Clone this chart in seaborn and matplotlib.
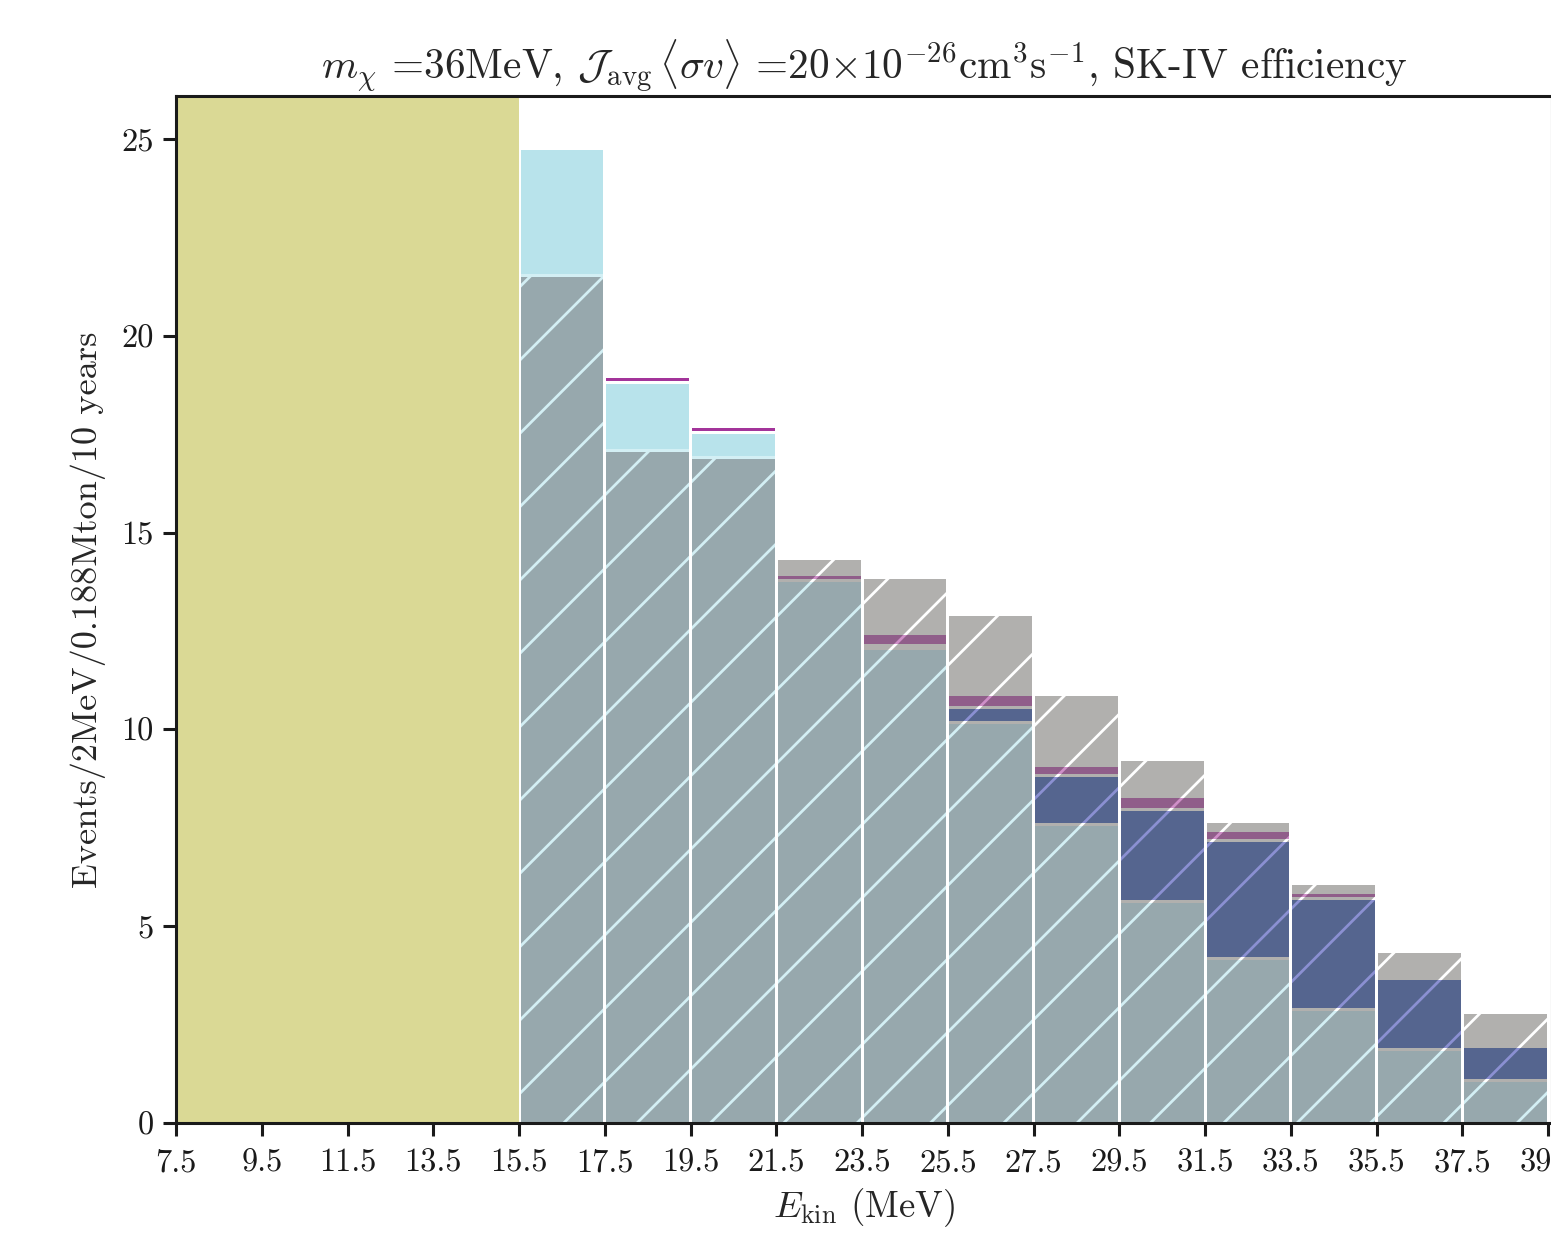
import numpy as np
import pandas as pd
import matplotlib
matplotlib.use("Agg")
import matplotlib.pyplot as plt
import seaborn as sns

# ---- data ----
bin_left = [15.5, 17.5, 19.5, 21.5, 23.5, 25.5, 27.5, 29.5, 31.5, 33.5, 35.5, 37.5]
slate  = [21.50, 17.05, 16.87, 13.75, 12.02, 10.14, 7.55, 5.59, 4.14, 2.85, 1.83, 1.04]
cyan   = [3.22, 1.73, 0.63, 0, 0, 0, 0, 0, 0, 0, 0, 0]
blue   = [0, 0, 0, 0, 0.07, 0.38, 1.24, 2.34, 3.00, 2.82, 1.80, 0.87]
purple = [0, 0.15, 0.16, 0.15, 0.30, 0.33, 0.25, 0.33, 0.25, 0.15, 0, 0]
gray   = [0, 0, 0, 0.40, 1.42, 2.03, 1.81, 0.94, 0.23, 0.23, 0.69, 0.86]
threshold_range = [7.5, 15.5]
xticks = [7.5 + 2 * i for i in range(17)]
yticks = [0, 5, 10, 15, 20, 25]

title = (r"$m_\chi$ =36MeV, $\mathcal{J}_{\rm avg}\,\langle\sigma v\rangle$ =20$\times10^{-26}$"
         r"cm$^3$s$^{-1}$, SK-IV efficiency")
xlabel = r"$E_{\rm kin}$ (MeV)"
ylabel = "Events/2MeV/0.188Mton/10 years"

# ---- style ----
sns.set_theme(style="ticks")
plt.rcParams.update({
    "font.family": "serif",
    "font.serif": ["cmr10", "DejaVu Serif"],
    "mathtext.fontset": "cm",
    "axes.unicode_minus": False,
    "axes.formatter.use_mathtext": True,
    "hatch.linewidth": 0.45,
    "axes.edgecolor": "#1a1a1a",
    "axes.linewidth": 0.5,
})

DPI = 440
W, H = 1551, 1245
fig = plt.figure(figsize=(W / DPI, H / DPI), dpi=DPI)
ax = fig.add_axes([176 / W, 1 - 1123 / H, (1552 - 176) / W, (1123 - 96) / H])

BW = 2.0
SHRINK = 0.965
GAP = 0.08
HATCH = "//"
centers = np.array(bin_left) + BW / 2
edges = [float(e) for e in bin_left] + [bin_left[-1] + BW]

slate_a, cyan_a, blue_a, purple_a, gray_a = map(np.array, (slate, cyan, blue, purple, gray))
total = slate_a + cyan_a + blue_a + purple_a + gray_a
has_gray = gray_a > 0

df = pd.DataFrame({
    "E": centers,
    "bg_gray": np.where(has_gray, total, 0.0),
    "bg_cyan": np.where(has_gray, 0.0, slate_a + cyan_a),
})

# background: hatched gray totals and light-cyan backing for the cyan bins
sns.histplot(data=df, x="E", weights="bg_gray", bins=edges, shrink=SHRINK,
             color="#b1b0ae", edgecolor="white", linewidth=0, hatch=HATCH, alpha=1,
             ax=ax, legend=False)
sns.histplot(data=df, x="E", weights="bg_cyan", bins=edges, shrink=SHRINK,
             color="#d3eff4", edgecolor="#d3eff4", linewidth=0, alpha=1, ax=ax, legend=False)

ax.axvspan(threshold_range[0], threshold_range[1], color="#dad995", lw=0, zorder=3)

layers = [
    (slate_a, "#97a8ad", "#d3eff4", HATCH),
    (cyan_a, "#b8e3eb", "#b8e3eb", ""),
    (blue_a, "#55658f", "#8b90d2", HATCH),
    (purple_a, None, None, HATCH),
]
cum = np.zeros(len(bin_left))
for vals, fc, hc, hatch in layers:
    for j in range(len(bin_left)):
        if vals[j] <= 0:
            continue
        b = cum[j] + (GAP if cum[j] > 0 else 0)
        h = cum[j] + vals[j] - b
        if h <= 0:
            continue
        f, e = fc, hc
        if f is None:
            f, e = ("#905e8a", "#cf8fc8") if has_gray[j] else ("#a3349a", "#a3349a")
        ax.bar(centers[j], h, bottom=b, width=BW * SHRINK, color=f, edgecolor=e,
               linewidth=0, hatch=hatch, zorder=2)
    cum = cum + vals

ax.set_xlim(7.5, 39.59)
ax.set_ylim(0, 26.09)
ax.set_xticks(xticks)
ax.set_xticklabels([f"{t:.1f}" for t in xticks])
ax.set_yticks(yticks)
ax.set_yticklabels([str(t) for t in yticks])
ax.tick_params(axis="both", direction="out", length=2.2, width=0.5, labelsize=5.3,
               colors="#1a1a1a")
ax.tick_params(axis="x", pad=2.0)
ax.tick_params(axis="y", pad=1.5)
ax.set_xlabel(xlabel, fontsize=6.05, labelpad=1.4)
ax.set_ylabel(ylabel, fontsize=5.95, labelpad=2.5)
ax.set_title(title, fontsize=6.75, pad=2.6)
for s in ax.spines.values():
    s.set_zorder(5)

fig.savefig("out.png", dpi=DPI)
